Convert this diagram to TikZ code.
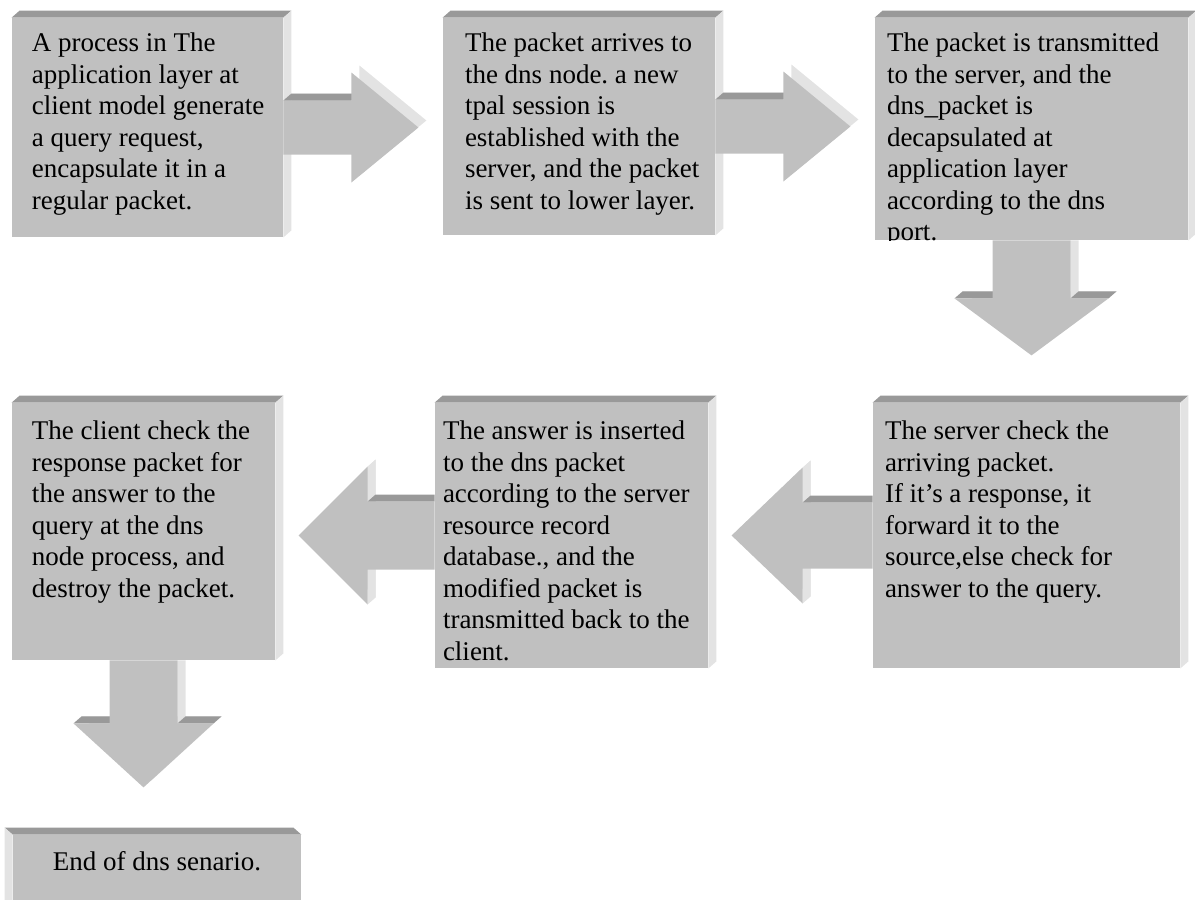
\documentclass[tikz,border=0pt]{standalone}
\usepackage{fontspec}
\setmainfont{Liberation Serif}
\frenchspacing
\usetikzlibrary{calc,fit}
\definecolor{facegray}{RGB}{192,192,192}
\definecolor{topgray}{RGB}{153,153,153}
\definecolor{sidegray}{RGB}{227,227,227}

\tikzset{
  slab/.style={fill=facegray,inner sep=0pt},
  flow/.style={anchor=north west,inner sep=0pt,align=left,font=\fontsize{13.5}{15.75}\selectfont},
  % block arrows: #1 shaft length, #2 half shaft, #3 half head, #4 head length
  pics/rarrow/.style args={#1/#2/#3/#4}{code={
    \fill[sidegray,shift={(8,-7)}] (0,-#2) -- (#1,-#2) -- (#1,-#3) -- ({#1+#4},0) -- (#1,#3) -- (#1,#2) -- (0,#2) -- cycle;
    \fill[topgray] (0,-#2) -- (8,{-#2-7}) -- ({#1+8},{-#2-7}) -- (#1,-#2) -- cycle;
    \fill[facegray] (0,-#2) -- (#1,-#2) -- (#1,-#3) -- ({#1+#4},0) -- (#1,#3) -- (#1,#2) -- (0,#2) -- cycle;
  }},
  pics/larrow/.style args={#1/#2/#3/#4}{code={
    \fill[sidegray] (-#1,-#3) -- ({-#1+8},{-#3-7}) -- ({-#1+8},{#3-7}) -- (-#1,#3) -- cycle;
    \fill[sidegray,shift={(8,-7)}] (-#1,-#3) -- ({-#1-#4},0) -- (-#1,#3) -- cycle;
    \fill[topgray] (0,-#2) -- (0,{-#2-7}) -- ({-#1+8},{-#2-7}) -- (-#1,-#2) -- cycle;
    \fill[facegray] (0,-#2) -- (-#1,-#2) -- (-#1,-#3) -- ({-#1-#4},0) -- (-#1,#3) -- (-#1,#2) -- (0,#2) -- cycle;
  }},
  pics/darrow/.style args={#1/#2/#3/#4}{code={
    \fill[sidegray] (#2,0) -- ({#2+8},0) -- ({#2+8},{#1-7}) -- (#2,#1) -- cycle;
    \fill[sidegray,shift={(8,-7)}] (-#3,#1) -- (0,{#1+#4}) -- (#3,#1) -- cycle;
    \fill[topgray] (-#3,#1) -- ({-#3+8},{#1-7}) -- ({-#2+8},{#1-7}) -- (-#2,#1) -- cycle;
    \fill[topgray] (#2,#1) -- ({#2+8},{#1-7}) -- ({#3+8},{#1-7}) -- (#3,#1) -- cycle;
    \fill[facegray] (-#2,0) -- (-#2,#1) -- (-#3,#1) -- (0,{#1+#4}) -- (#3,#1) -- (#2,#1) -- (#2,0) -- cycle;
  }}
}

\begin{document}
\begin{tikzpicture}[x=0.5pt,y=-0.5pt]
\useasboundingbox (0,0) rectangle (1195,900);

% the seven steps
\node[slab,fit={(12,18) (283,237)}] (gen) {};
\node[slab,fit={(443,18) (715,235)}] (tpal) {};
\node[slab,fit={(875,18) (1188,240)}] (srv) {};
\node[slab,fit={(873,403) (1180,668)}] (chk) {};
\node[slab,fit={(435,403) (708,668)}] (ans) {};
\node[slab,fit={(12,403) (275,660)}] (cli) {};
\node[slab,fit={(13,835) (301,915)}] (fin) {};

% bevels
\foreach \b in {gen,tpal,srv,chk,ans,cli} {
  \fill[topgray] (\b.north west) -- ++(8,-7) -- ($(\b.north east)+(8,-7)$) -- (\b.north east) -- cycle;
  \fill[sidegray] (\b.north east) -- ++(8,-7) -- ($(\b.south east)+(8,-7)$) -- (\b.south east) -- cycle;
}
\fill[topgray] (fin.north east) -- ++(-8,-7) -- ($(fin.north west)+(-8,-7)$) -- (fin.north west) -- cycle;
\fill[sidegray] (fin.north west) -- ++(-8,-7) -- ($(fin.south west)+(-8,-7)$) -- (fin.south west) -- cycle;

% texts
\node[flow] (genT) at ($(gen.north west)+(20,15)$) {A process in The\\application layer at\\client model generate\\a query request,\\encapsulate it in a\\regular packet.};
\node[flow] (tpalT) at ($(tpal.north west)+(22,15)$) {The packet arrives to\\the dns node. a new\\tpal session is\\established with the\\server, and the packet\\is sent to lower layer.};
\begin{scope}
  \clip (srv.north west) rectangle (srv.south east);
  \node[flow] (srvT) at ($(srv.north west)+(12,15)$) {The packet is transmitted\\to the server, and the\\dns\_packet is\\decapsulated at\\application layer\\according to the dns\\port.};
\end{scope}
\node[flow] (chkT) at ($(chk.north west)+(12,18)$) {The server check the\\arriving packet.\\If it’s a response, it\\forward it to the\\source,else check for\\answer to the query.};
\node[flow] (ansT) at ($(ans.north west)+(8,18)$) {The answer is inserted\\to the dns packet\\according to the server\\resource record\\database., and the\\modified packet is\\transmitted back to the\\client.};
\node[flow] (cliT) at ($(cli.north west)+(20,18)$) {The client check the\\response packet for\\the answer to the\\query at the dns\\node process, and\\destroy the packet.};
\node[flow,anchor=base] (finT) at ($(fin.north)+(0,36)$) {End of dns senario.};

% arrows between steps
\pic at (gen.east) {rarrow=68/27/55/67};
\pic at (tpal.east) {rarrow=68/27/55/67};
\pic at (srv.south) {darrow=58/39/77/57};
\pic at (chk.west) {larrow=70/33/68/71};
\pic at (ans.west) {larrow=67/34/69/69};
\pic at (cli.south) {darrow=63/34/70/64};
\end{tikzpicture}
\end{document}
